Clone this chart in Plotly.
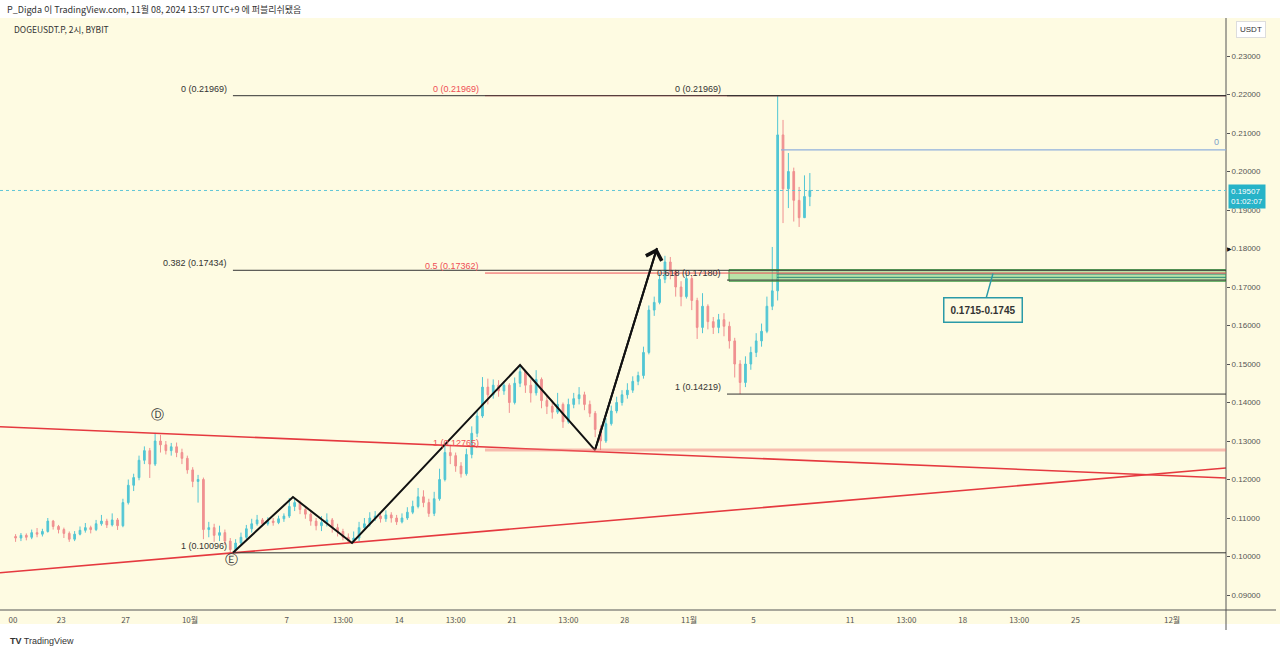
import pandas as pd
import plotly.graph_objects as go

# ---------------- data ----------------
header_text = "P_Digda 이 TradingView.com, 11월 08, 2024 13:57 UTC+9 에 퍼블리쉬됐음"
symbol_title = "DOGEUSDT.P, 2시, BYBIT"

candle_start = "2024-09-20 00:00"
candle_hours = 8
first_open = 0.1052

closes = [
    0.1048, 0.1055, 0.1050,  0.1062, 0.1058, 0.1065,  0.1092, 0.1078, 0.1070,
    0.1060, 0.1045, 0.1058,  0.1068, 0.1075, 0.1070,  0.1085, 0.1092, 0.1082,
    0.1095, 0.1080, 0.1140,  0.1185, 0.1205, 0.1250,  0.1275, 0.1240, 0.1300,
    0.1290, 0.1275, 0.1285,  0.1270, 0.1255, 0.1225,  0.1195, 0.1200, 0.1070,
    0.1075, 0.1055, 0.1062,  0.1040, 0.1018, 0.1035,  0.1050, 0.1072, 0.1085,
    0.1095, 0.1085, 0.1092,  0.1088, 0.1098, 0.1105,  0.1130, 0.1140, 0.1122,
    0.1110, 0.1092, 0.1080,  0.1088, 0.1095, 0.1075,  0.1065, 0.1050, 0.1040,
    0.1048, 0.1075, 0.1085,  0.1100, 0.1105, 0.1098,  0.1108, 0.1100, 0.1090,
    0.1100, 0.1115, 0.1130,  0.1155, 0.1140, 0.1112,  0.1150, 0.1200, 0.1270,
    0.1262, 0.1235, 0.1215,  0.1265, 0.1320, 0.1365,  0.1440, 0.1420, 0.1445,
    0.1430, 0.1445, 0.1400,  0.1450, 0.1480, 0.1445,  0.1425, 0.1460, 0.1405,
    0.1390, 0.1375, 0.1395,  0.1350, 0.1395, 0.1410,  0.1420, 0.1395, 0.1372,
    0.1330, 0.1300, 0.1345,  0.1378, 0.1400, 0.1420,  0.1432, 0.1455, 0.1470,
    0.1530, 0.1640, 0.1660,  0.1720, 0.1765, 0.1740,  0.1700, 0.1675, 0.1722,
    0.1665, 0.1595, 0.1650,  0.1610, 0.1595, 0.1615,  0.1598, 0.1560, 0.1500,
    0.1452, 0.1500, 0.1530,  0.1560, 0.1585, 0.1650,  0.1690, 0.2095, 0.1955,
    0.2000, 0.1925, 0.1880,  0.1935, 0.19507,
]
highs = [
    0.1058, 0.1061, 0.1060,  0.1070, 0.1074, 0.1072,  0.1100, 0.1095, 0.1082,
    0.1075, 0.1065, 0.1066,  0.1078, 0.1087, 0.1080,  0.1095, 0.1108, 0.1098,
    0.1112, 0.1100, 0.1150,  0.1200, 0.1215, 0.1262,  0.1286, 0.1282, 0.1321,
    0.1316, 0.1300, 0.1295,  0.1296, 0.1280, 0.1262,  0.1232, 0.1212, 0.1205,
    0.1090, 0.1085, 0.1080,  0.1070, 0.1048, 0.1045,  0.1062, 0.1082, 0.1098,
    0.1108, 0.1100, 0.1102,  0.1100, 0.1106, 0.1112,  0.1152, 0.1150, 0.1145,
    0.1130, 0.1115, 0.1100,  0.1105, 0.1112, 0.1100,  0.1085, 0.1072, 0.1060,
    0.1065, 0.1090, 0.1100,  0.1115, 0.1118, 0.1112,  0.1120, 0.1115, 0.1108,
    0.1112, 0.1128, 0.1145,  0.1178, 0.1172, 0.1150,  0.1168, 0.1228, 0.1295,
    0.1290, 0.1270, 0.1245,  0.1280, 0.1338, 0.1380,  0.1466, 0.1462, 0.1460,
    0.1458, 0.1455, 0.1450,  0.1465, 0.1492, 0.1485,  0.1460, 0.1484, 0.1465,
    0.1420, 0.1405, 0.1425,  0.1400, 0.1410, 0.1425,  0.1440, 0.1428, 0.1405,
    0.1378, 0.1340, 0.1360,  0.1392, 0.1415, 0.1432,  0.1450, 0.1468, 0.1480,
    0.1545, 0.1652, 0.1675,  0.1735, 0.1781, 0.1778,  0.1745, 0.1715, 0.1736,
    0.1730, 0.1672, 0.1684,  0.1655, 0.1622, 0.1630,  0.1632, 0.1610, 0.1568,
    0.1510, 0.1520, 0.1545,  0.1580, 0.1605, 0.1675,  0.1804, 0.21969, 0.2134,
    0.2048, 0.2010, 0.1960,  0.1990, 0.1996,
]
lows = [
    0.1038, 0.1040, 0.1042,  0.1045, 0.1050, 0.1052,  0.1062, 0.1070, 0.1060,
    0.1048, 0.1038, 0.1040,  0.1055, 0.1062, 0.1060,  0.1066, 0.1080, 0.1074,
    0.1078, 0.1069, 0.1076,  0.1135, 0.1170, 0.1198,  0.1240, 0.1204, 0.1235,
    0.1270, 0.1265, 0.1262,  0.1258, 0.1240, 0.1215,  0.1180, 0.1140, 0.1045,
    0.1050, 0.1038, 0.1040,  0.1030, 0.1010, 0.10096, 0.1028, 0.1045, 0.1062,
    0.1080, 0.1078, 0.1080,  0.1080, 0.1084, 0.1090,  0.1100, 0.1118, 0.1110,
    0.1098, 0.1080, 0.1068,  0.1066, 0.1078, 0.1062,  0.1052, 0.1042, 0.1035,
    0.1035, 0.1040, 0.1068,  0.1078, 0.1092, 0.1088,  0.1090, 0.1088, 0.1082,
    0.1086, 0.1095, 0.1110,  0.1125, 0.1128, 0.1103,  0.1105, 0.1145, 0.1195,
    0.1240, 0.1220, 0.1205,  0.1210, 0.1255, 0.1310,  0.1360, 0.1395, 0.1410,
    0.1415, 0.1420, 0.1373,  0.1395, 0.1440, 0.1425,  0.1400, 0.1418, 0.1385,
    0.1370, 0.1358, 0.1370,  0.1334, 0.1345, 0.1385,  0.1395, 0.1380, 0.1362,
    0.1310, 0.12765, 0.1295, 0.1340, 0.1372, 0.1392,  0.1410, 0.1425, 0.1445,
    0.1462, 0.1525, 0.1625,  0.1655, 0.1710, 0.1720,  0.1675, 0.1650, 0.1670,
    0.1640, 0.1565, 0.1580,  0.1590, 0.1578, 0.1580,  0.1572, 0.1540, 0.1465,
    0.14219, 0.1440, 0.1485, 0.1518, 0.1545, 0.1580,  0.1640, 0.1665, 0.1866,
    0.1905, 0.1870, 0.1856,  0.1880, 0.1910,
]

# x-axis ticks
x_tick_dates = ["2024-09-20 00:00", "2024-09-23", "2024-09-27", "2024-10-01", "2024-10-07",
                "2024-10-10 12:00", "2024-10-14", "2024-10-17 12:00", "2024-10-21",
                "2024-10-24 12:00", "2024-10-28", "2024-11-01", "2024-11-05", "2024-11-11",
                "2024-11-14 12:00", "2024-11-18", "2024-11-21 12:00", "2024-11-25", "2024-12-01"]
x_tick_text = ["00", "23", "27", "10월", "7", "13:00", "14", "13:00", "21", "13:00", "28",
               "11월", "5", "11", "13:00", "18", "13:00", "25", "12월"]
y_tick_vals = [0.09, 0.10, 0.11, 0.12, 0.13, 0.14, 0.15, 0.16, 0.17, 0.18, 0.19, 0.20, 0.21, 0.22, 0.23]
y_tick_text = ["0.09000", "0.10000", "0.11000", "0.12000", "0.13000", "0.14000", "0.15000",
               "0.16000", "0.17000", "0.18000", "0.19000", "0.20000", "0.21000", "0.22000", "0.23000"]

x_range = ["2024-09-19 04:46", "2024-12-04 08:21"]
y_range = [0.086104, 0.23987]

# trend lines (start/end)
upper_trend_dates = ["2024-09-19 04:46", "2024-12-04 08:21"]
upper_trend_prices = [0.13371, 0.12039]
lower_trend_dates = ["2024-09-19 04:46", "2024-12-04 08:21"]
lower_trend_prices = [0.09579, 0.12299]

# zigzag wave
zz_dates = ["2024-10-03 16:00", "2024-10-07 09:30", "2024-10-11 01:30",
            "2024-10-21 12:00", "2024-10-26 03:45", "2024-10-30 00:10"]
zz_prices = [0.10096, 0.11545, 0.10351, 0.14974, 0.12765, 0.18013]

# fib retracements
fib1_start = "2024-10-03 16:00"
fib1_levels = ["0", "0.382", "1"]
fib1_prices = [0.21969, 0.17434, 0.10096]
fib2_start = "2024-10-19 07:45"
fib2_levels = ["0", "0.5", "1"]
fib2_prices = [0.21969, 0.17362, 0.12765]
fib3_start = "2024-11-03 08:30"
fib3_levels = ["0", "0.618", "1"]
fib3_prices = [0.21969, 0.17180, 0.14219]

zone_start = "2024-11-03 11:30"
zone_low, zone_high = 0.1715, 0.1745
zone_inner_start = "2024-11-06 11:00"
zone_inner_prices = [0.17337, 0.17251]
zone_label = "0.1715-0.1745"
zone_label_date = "2024-11-19 21:00"
zone_label_price = 0.1735

blue_line_start = "2024-11-06 17:00"
blue_line_price = 0.2056
last_price = 0.19507
last_price_text = "0.19507"
countdown_text = "01:02:07"

point_labels = ["Ⓓ", "Ⓔ"]
point_dates = ["2024-09-29 00:00", "2024-10-03 14:00"]
point_prices = [0.13695, 0.09912]

# ---------------- build ----------------
times = pd.date_range(candle_start, periods=len(closes), freq=f"{candle_hours}h") + pd.Timedelta(hours=candle_hours / 2)
opens = [first_open] + closes[:-1]

W, H = 1280, 654
BG = "#fefbe2"
FONT = "Liberation Sans, Arial, sans-serif"
KFONT = "Noto Sans CJK KR, Noto Sans, sans-serif"


def px(xp):
    return xp / W


def py(yp):
    return 1 - yp / H


fig = go.Figure()
fig.add_trace(go.Candlestick(
    x=times, open=opens, high=highs, low=lows, close=closes,
    increasing=dict(line=dict(color="#52c6d4", width=1), fillcolor="#52c6d4"),
    decreasing=dict(line=dict(color="#f09090", width=1), fillcolor="#f09090"),
    hoverinfo="skip", showlegend=False,
))

# trend lines
fig.add_trace(go.Scatter(x=upper_trend_dates, y=upper_trend_prices, mode="lines",
                         line=dict(color="#e5393f", width=1.6), hoverinfo="skip", showlegend=False))
fig.add_trace(go.Scatter(x=lower_trend_dates, y=lower_trend_prices, mode="lines",
                         line=dict(color="#e5393f", width=1.6), hoverinfo="skip", showlegend=False))

shapes = []
annotations = []

# pane background
shapes.append(dict(type="rect", xref="paper", yref="paper", x0=0, x1=1, y0=py(624), y1=py(18),
                    fillcolor=BG, line=dict(width=0), layer="below"))
# separators
shapes.append(dict(type="line", xref="paper", yref="paper", x0=px(1226), x1=px(1226), y0=py(630), y1=py(18),
                    line=dict(color="#555", width=1)))
shapes.append(dict(type="line", xref="paper", yref="paper", x0=0, x1=px(1276), y0=py(610), y1=py(610),
                    line=dict(color="#555", width=1)))

x_end = x_range[1]

# green zone
shapes.append(dict(type="rect", xref="x", yref="y", x0=zone_start, x1=x_end, y0=zone_low, y1=zone_high,
                    fillcolor="rgba(129,205,120,0.55)", line=dict(color="#3d9b45", width=1)))
for p in zone_inner_prices:
    shapes.append(dict(type="line", xref="x", yref="y", x0=zone_inner_start, x1=x_end, y0=p, y1=p,
                        line=dict(color="#2d8a7a", width=1)))


# fib lines & labels
def add_fib(start, levels, prices, color, width_map=None):
    for lv, p in zip(levels, prices):
        w = 1
        c = color
        if width_map and lv in width_map:
            c, w = width_map[lv]
        shapes.append(dict(type="line", xref="x", yref="y", x0=start, x1=x_end, y0=p, y1=p,
                            line=dict(color=c, width=w)))
        annotations.append(dict(xref="x", yref="y", x=start, y=p, xanchor="right", yanchor="bottom",
                                text=f"{lv} ({p:.5f})", showarrow=False, xshift=-4, yshift=0,
                                font=dict(family=FONT, size=9, color=color)))


add_fib(fib2_start, fib2_levels, fib2_prices, "#ef4f55", {"1": ("rgba(240,110,110,0.45)", 3)})
add_fib(fib3_start, fib3_levels, fib3_prices, "#333333")
add_fib(fib1_start, fib1_levels, fib1_prices, "#333333")

# blue line
shapes.append(dict(type="line", xref="x", yref="y", x0=blue_line_start, x1=x_end, y0=blue_line_price,
                    y1=blue_line_price, line=dict(color="#8fb0dc", width=1.2)))
annotations.append(dict(xref="x", yref="y", x=x_end, y=blue_line_price, xanchor="right", yanchor="bottom",
                        text="0", showarrow=False, xshift=-5, yshift=1,
                        font=dict(family=FONT, size=9, color="#7d9fc9")))

# last price dotted line
shapes.append(dict(type="line", xref="paper", yref="y", x0=0, x1=px(1226), y0=last_price, y1=last_price,
                    line=dict(color="#60c6d6", width=1, dash="dot")))

# zigzag
fig.add_trace(go.Scatter(x=zz_dates, y=zz_prices, mode="lines", line=dict(color="#111", width=2),
                         hoverinfo="skip", showlegend=False))
annotations.append(dict(xref="x", yref="y", axref="x", ayref="y", x=zz_dates[-1], y=zz_prices[-1],
                        ax=zz_dates[-2], ay=zz_prices[-2], text="", showarrow=True, arrowhead=4,
                        arrowsize=1.6, arrowwidth=2, arrowcolor="#111", standoff=0))

# callout
annotations.append(dict(xref="x", yref="y", x=zone_label_date, y=zone_label_price,
                        text=f"<b>{zone_label}</b>", showarrow=True, arrowhead=0, arrowwidth=1.4,
                        arrowcolor="#2a9aa8", ax=-10, ay=36, bgcolor=BG, bordercolor="#2a9aa8",
                        borderwidth=1.5, borderpad=6, font=dict(family=FONT, size=10, color="#333")))

# D / E markers
for t, d, p in zip(point_labels, point_dates, point_prices):
    annotations.append(dict(xref="x", yref="y", x=d, y=p, text=t, showarrow=False,
                            font=dict(family="DejaVu Sans", size=13, color="#333")))

# header & titles
annotations.append(dict(xref="paper", yref="paper", x=px(5), y=py(9), xanchor="left", yanchor="middle",
                        text=header_text, showarrow=False, font=dict(family=KFONT, size=9, color="#333")))
annotations.append(dict(xref="paper", yref="paper", x=px(12), y=py(29), xanchor="left", yanchor="middle",
                        text=symbol_title, showarrow=False, font=dict(family=KFONT, size=8.5, color="#333")))
annotations.append(dict(xref="paper", yref="paper", x=px(8), y=py(641), xanchor="left", yanchor="middle",
                        text="<b>TV</b> TradingView", showarrow=False, font=dict(family=FONT, size=9, color="#333")))
# axis unit box
annotations.append(dict(xref="paper", yref="paper", x=px(1251), y=py(30), xanchor="center", yanchor="middle",
                        text="USDT", showarrow=False, bgcolor="white", bordercolor="#dddddd", borderwidth=1,
                        borderpad=3, font=dict(family=FONT, size=8, color="#333")))
# price label on axis
annotations.append(dict(xref="paper", yref="y", x=px(1228), y=last_price, xanchor="left", yanchor="top",
                        text=f"{last_price_text}<br>{countdown_text}", showarrow=False, yshift=6,
                        bgcolor="#27b3c8", borderpad=2, align="left",
                        font=dict(family=FONT, size=8, color="white")))
annotations.append(dict(xref="paper", yref="y", x=px(1229), y=0.18, xanchor="center", yanchor="middle",
                        text="▶", showarrow=False, font=dict(family="DejaVu Sans", size=6, color="#111")))

fig.update_layout(
    width=W, height=H,
    margin=dict(l=0, r=0, t=0, b=0),
    paper_bgcolor="white", plot_bgcolor="rgba(0,0,0,0)",
    showlegend=False, hovermode=False, boxgap=0.55,
    shapes=shapes, annotations=annotations,
    xaxis=dict(type="date", domain=[0, px(1226)], range=x_range, rangeslider=dict(visible=False),
               tickvals=x_tick_dates, ticktext=x_tick_text, showgrid=False, zeroline=False,
               ticks="", tickfont=dict(family=KFONT, size=8, color="#555"), ticklabelstandoff=4,
               showline=False),
    yaxis=dict(side="right", domain=[py(610), py(18)], range=y_range, tickvals=y_tick_vals,
               ticktext=y_tick_text, showgrid=False, zeroline=False, ticks="outside", ticklen=3,
               tickcolor="#555", tickfont=dict(family=FONT, size=8, color="#555"), showline=False),
)

fig.write_html("out.html", config={"displayModeBar": False, "staticPlot": True},
               post_script="document.body.style.margin='0';document.body.style.padding='0';document.body.style.overflow='hidden';")
